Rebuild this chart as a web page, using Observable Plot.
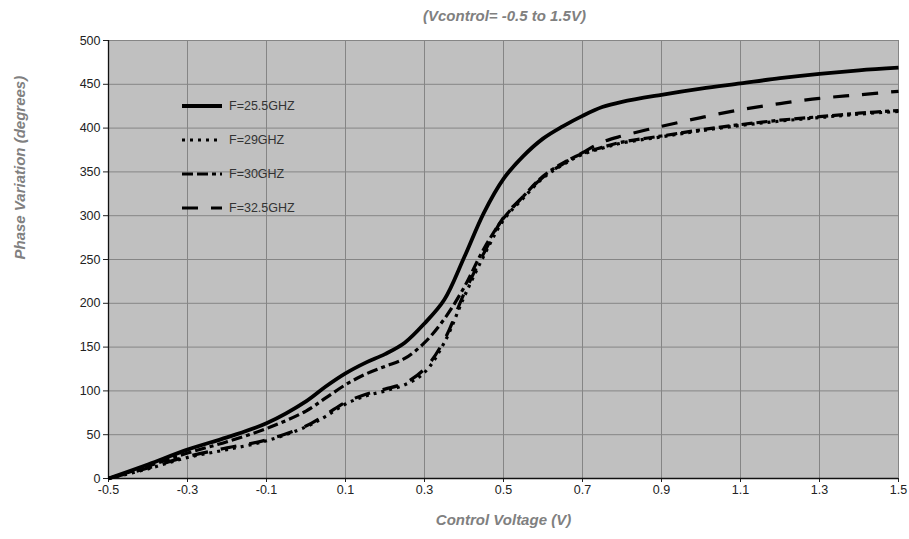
<!DOCTYPE html>
<html>
<head>
<meta charset="utf-8">
<script src="https://cdn.jsdelivr.net/npm/d3@7"></script>
<script src="https://cdn.jsdelivr.net/npm/@observablehq/plot@0.6"></script>
<style>
  body { margin: 0; background: #fff; width: 909px; height: 539px; overflow: hidden; }
  #wrap { position: relative; width: 909px; }
  #title { height: 28px; text-align: center; font: italic bold 15px "Liberation Sans", Arial, sans-serif; color: #808080; padding-left: 100px; box-sizing: border-box; line-height: 32px; }
  #legend { position: absolute; left: 180px; top: 89px; font: 12.5px "Liberation Sans", Arial, sans-serif; color: #333; }
  #legend .row { display: flex; align-items: center; height: 34px; }
  #legend svg { margin-right: 5px; }
</style>
</head>
<body>
<div id="wrap">
  <div id="title">(Vcontrol= -0.5 to 1.5V)</div>
  <div id="chart"></div>
  <div id="legend"></div>
</div>
<script>
const voltage = [-0.5,-0.4,-0.3,-0.2,-0.1,0,0.05,0.1,0.15,0.2,0.25,0.3,0.35,0.4,0.45,0.5,0.55,0.6,0.65,0.7,0.75,0.8,0.9,1.0,1.1,1.2,1.3,1.4,1.5];
const f25_5 = [0,16,33,47,63,88,105,120,132,142,155,177,204,252,303,342,368,388,402,414,424,430,438,445,451,457,462,466,469];
const f29   = [0,11,24,33,43,59,71,85,94,100,107,121,155,207,254,295,320,343,358,370,377,383,390,397,403,408,412,416,419];
const f30   = [0,14,29,42,57,77,92,107,119,128,137,155,182,218,262,297,322,345,360,371,378,384,391,398,404,409,413,417,420];
const f32_5 = [0,12,25,35,44,60,73,87,96,102,109,125,158,211,257,298,322,344,359,372,384,391,402,412,421,428,434,438,442];
const seriesNames = ["F=25.5GHZ","F=29GHZ","F=30GHZ","F=32.5GHZ"];
const seriesValues = [f25_5, f29, f30, f32_5];
const xTicks = [-0.5,-0.3,-0.1,0.1,0.3,0.5,0.7,0.9,1.1,1.3,1.5];
const yTicks = [0,50,100,150,200,250,300,350,400,450,500];

const styles = [
  {dash: null, width: 3.8},
  {dash: "3,5", width: 3.2},
  {dash: "11,4,11,4,4,4", width: 3.2},
  {dash: "16,13", width: 3.2}
];

const rows = [];
seriesNames.forEach((name, i) => {
  voltage.forEach((v, j) => rows.push({series: name, v, p: seriesValues[i][j]}));
});

const lineMarks = seriesNames.map((name, i) => Plot.line(rows.filter(d => d.series === name), {
  x: "v", y: "p", stroke: "#000", strokeWidth: styles[i].width,
  strokeDasharray: styles[i].dash, curve: "catmull-rom", strokeLinecap: "butt", strokeLinejoin: "round"
}));

const chart = Plot.plot({
  width: 909, height: 511,
  marginLeft: 108, marginRight: 11, marginTop: 12, marginBottom: 61,
  style: {fontFamily: "'Liberation Sans Narrow', 'Arial Narrow', 'Liberation Sans', sans-serif", fontSize: "12.5px", color: "#222", background: "transparent"},
  x: {domain: [-0.5, 1.5]},
  y: {domain: [0, 500]},
  marks: [
    Plot.frame({fill: "#c0c0c0", stroke: null}),
    Plot.gridX(xTicks, {stroke: "#858585", strokeOpacity: 1, strokeWidth: 1}),
    Plot.gridY(yTicks, {stroke: "#858585", strokeOpacity: 1, strokeWidth: 1}),
    Plot.axisX(xTicks, {tickSize: 4, tickPadding: 3, stroke: "#222", fontSize: 12.5, tickFormat: d => String(d), label: null}),
    Plot.axisY(yTicks, {tickSize: 5, tickPadding: 3, stroke: "#222", fontSize: 12.5, label: null}),
    Plot.ruleX([-0.5], {stroke: "#111", strokeWidth: 1.3}),
    Plot.ruleY([0], {stroke: "#111", strokeWidth: 1.3}),
    ...lineMarks,
    Plot.text(["Control Voltage (V)"], {frameAnchor: "bottom", dy: 46, fontSize: 15, fontWeight: "bold", fontStyle: "italic", fill: "#808080", fontFamily: "'Liberation Sans', Arial, sans-serif"}),
    Plot.text(["Phase Variation (degrees)"], {frameAnchor: "left", dx: -88, rotate: -90, fontSize: 15, fontWeight: "bold", fontStyle: "italic", fill: "#808080", fontFamily: "'Liberation Sans', Arial, sans-serif"})
  ]
});
document.getElementById("chart").appendChild(chart);

const legend = document.getElementById("legend");
seriesNames.forEach((name, i) => {
  const row = document.createElement("div");
  row.className = "row";
  const dash = styles[i].dash ? ` stroke-dasharray="${styles[i].dash}"` : "";
  row.innerHTML = `<svg width="44" height="10"><line x1="2" y1="5" x2="42" y2="5" stroke="#000" stroke-width="${styles[i].width}"${dash}/></svg><span>${name}</span>`;
  legend.appendChild(row);
});
</script>
</body>
</html>
